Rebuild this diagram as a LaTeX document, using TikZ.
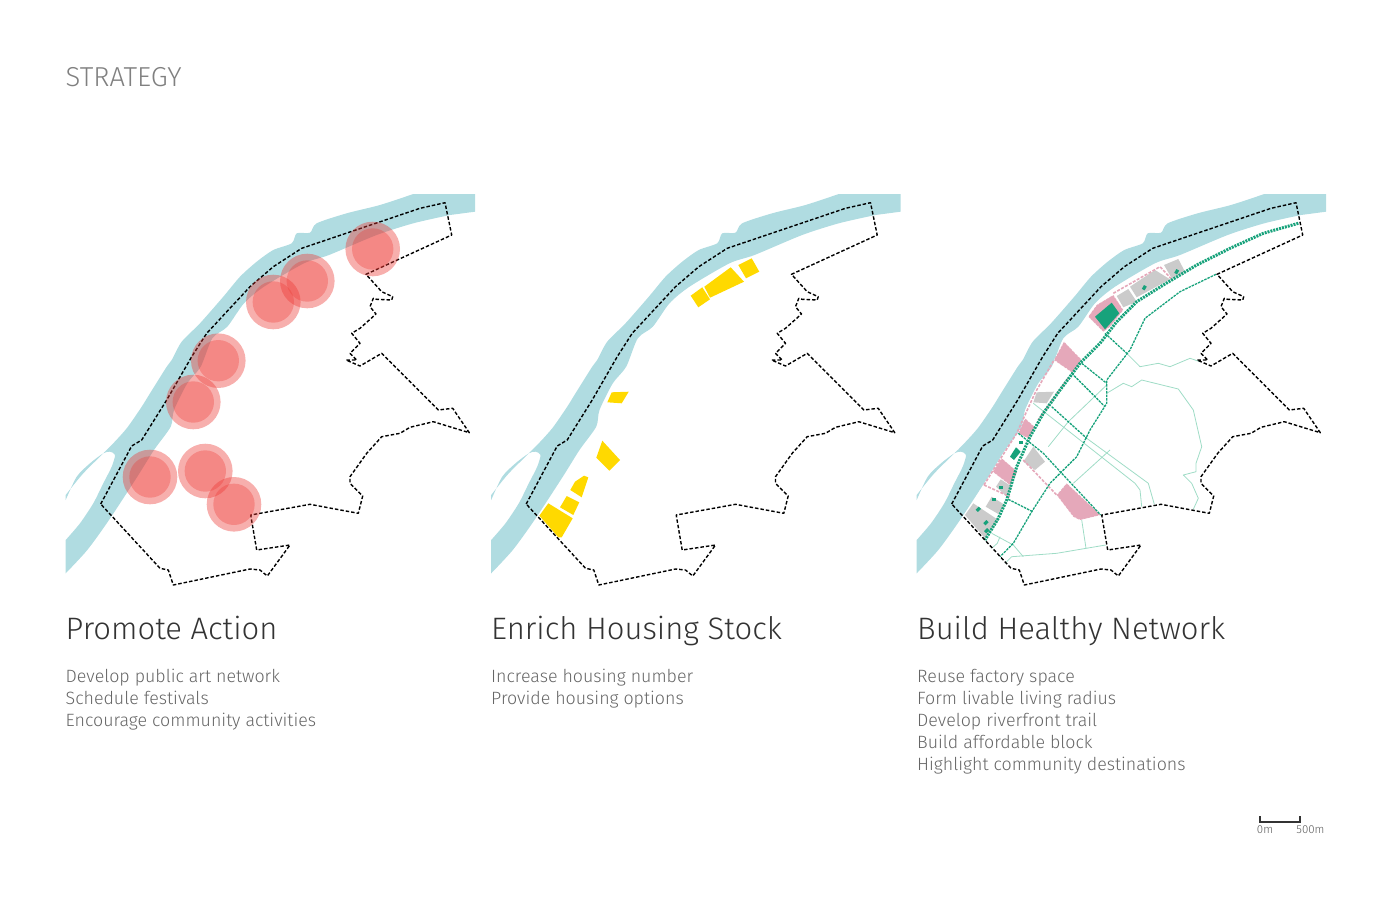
\documentclass[tikz,border=0pt]{standalone}
\usepackage{xcolor}
\usepackage{fontspec}
\setmainfont[UprightFont={* Light}]{Fira Sans}
\usetikzlibrary{positioning}
\definecolor{riverblue}{HTML}{B0DCE1}
\definecolor{eventred}{HTML}{EC3833}
\definecolor{houseyellow}{HTML}{FFD900}
\definecolor{blockpink}{HTML}{E5A8BA}
\definecolor{factorygray}{HTML}{CBCBCB}
\definecolor{trailgreen}{HTML}{17A27B}
\definecolor{linegreen}{HTML}{9FDCC6}

\def\riverpath{plot[smooth, tension=0.45] coordinates {(65.7,495) (83.3,473.3) (110,446.7) (126.7,428.3) (141.7,406.7) (150,393.3) (166.7,366.7) (171.7,360) (181.7,341.7) (200,323.3) (223.3,296.7) (240,276.7) (256.7,261.7) (273.3,250) (291.7,243.3) (296.7,233.3) (310,232.7) (316.7,223.3) (346.7,213.3) (380,205) (413.3,194)} -- (475,194) -- (475,211.7) -- plot[smooth, tension=0.45] coordinates {(450,215) (413.3,223.3) (376.7,235) (329,255) (304,263.3) (264,286.7) (244,303.3) (227.3,326.7) (212.3,338.3) (200.7,366.7) (187.3,383.3) (174,410) (170.7,426.7) (154,450) (137.3,476.7) (109,520) (87.3,550) (65.7,573.3)} -- plot[smooth, tension=0.45] coordinates {(65.7,540) (80,523.3) (93.3,503.3) (103.3,483.3) (111.7,466.7) (115,455) (110,451.7) (103.3,453.3) (90,463.3) (76.7,476.7) (65.7,500)} -- cycle}
\def\sitepath{(100.7,504) -- (131.7,446) -- (141.7,440) -- (166.7,400) -- (191.7,356.7) -- (206.7,333.3) -- (250,286.7) -- (273.3,266.7) -- (301.7,248.3) -- (420,208.3) -- (445,202.7) -- (451.7,235) -- (366,274.3) -- (381.7,291.7) -- (392.7,296.7) -- (391.7,300) -- (376.7,299.3) -- (373.3,298.3) -- (370,306.7) -- (376,314) -- (360,328.3) -- (351.7,333.3) -- (360,343.3) -- (350,353.3) -- (356.7,360) -- (346,360) -- (360,366) -- (381.7,353.3) -- (438.3,410) -- (452.7,408.3) -- (469.3,432.7) -- (433.3,421.7) -- (410,427.3) -- (400,433.3) -- (381.7,436.7) -- (366.7,453.3) -- (350,476.7) -- (350,483.3) -- (362.7,496) -- (358.3,513.3) -- (310,504.3) -- (250.7,515) -- (256.7,550) -- (290,545) -- (267.3,576) -- (260,570) -- (250,569) -- (173.3,585) -- (168.3,570) -- (160,568.3) -- cycle}
\newcommand{\linestrut}{\rule{0pt}{14pt}}

\begin{document}
\begin{tikzpicture}[
    x=1pt, y=-1pt,
    river/.style={fill=riverblue},
    site/.style={black, line width=1.4pt, dash pattern=on 3.5pt off 2pt, line join=round},
    halo/.style={fill=eventred, fill opacity=#1},
    house/.style={fill=houseyellow},
    pinkblock/.style={fill=blockpink, draw=white, line width=0.5pt, dash pattern=on 1pt off 3pt},
    grayblock/.style={fill=factorygray},
    greenmark/.style={fill=trailgreen},
    trail/.style={trailgreen, line width=3pt, dash pattern=on 2pt off 1pt},
    route/.style={trailgreen, line width=1.3pt, dash pattern=on 2.5pt off 1pt, line join=round},
    pinkroute/.style={blockpink, line width=1.6pt, dash pattern=on 3pt off 1.5pt},
    street/.style={linegreen, line width=0.8pt, line join=round},
    bigtitle/.style={anchor=base west, inner sep=0pt, font=\fontsize{31}{31}\selectfont, text=black!80},
    bodytext/.style={anchor=north west, inner sep=0pt, align=left, font=\fontsize{17.8}{22}\selectfont, text=black!60},
    scalelabel/.style={anchor=base, inner sep=0pt, font=\fontsize{11.5}{12}\selectfont, text=black!65}
]
\useasboundingbox (0,0) rectangle (1391,900);

\node[anchor=base west, inner sep=0pt, font=\fontsize{27.4}{27}\selectfont, text=black!50] (title) at (65.5,86) {STRATEGY};

% Promote Action
\fill[river] \riverpath;
\draw[site] \sitepath;
\foreach \x/\y in {372.7/249, 307.3/281, 273.3/302, 218.3/360.7, 193.3/402, 150/477, 205.3/471, 234/504.3} {
    \fill[halo=0.4] (\x,\y) circle (27.3pt);
    \fill[halo=0.33] (\x,\y) circle (20.7pt);
}
\node[bigtitle] (actionhead) at (65.5,639) {Promote Action};
\node[bodytext] (actiontext) at (65.5,668) {\linestrut Develop public art network\\Schedule festivals\\Encourage community activities};

% Enrich Housing Stock
\begin{scope}[xshift=425.5pt]
\fill[river] \riverpath;
\draw[site] \sitepath;
\end{scope}
\fill[house] (751.7,258.3) -- (759.3,271.7) -- (746,278.3) -- (738.3,265) -- cycle;
\fill[house] (730.7,267.3) -- (744,281.7) -- (710,297.7) -- (704.3,286.7) -- cycle;
\fill[house] (702.3,287.3) -- (710,299.3) -- (698.3,307.3) -- (690.7,295.7) -- cycle;
\fill[house] (611.7,392.3) -- (628.7,391.7) -- (621.7,403.3) -- (607.3,402.3) -- cycle;
\fill[house] (602.3,440.7) -- (620,460) -- (609.3,470.7) -- (596.3,457.7) -- cycle;
\fill[house] (588.3,477.3) -- (581.7,497.3) -- (570.3,490) -- (575,481.7) -- (584,475.7) -- cycle;
\fill[house] (566.7,496) -- (579.3,502.3) -- (573.3,515) -- (560,507.3) -- cycle;
\fill[house] (548.3,503.3) -- (572.7,518.3) -- (561.7,537.3) -- (558.3,537.3) -- (539.3,515.7) -- cycle;
\node[bigtitle] (househead) at (491,639) {Enrich Housing Stock};
\node[bodytext] (housetext) at (491,668) {\linestrut Increase housing number\\Provide housing options};

% Build Healthy Network
\begin{scope}[xshift=851pt]
\fill[river] \riverpath;
\end{scope}

% thin streets
\draw[street] (1126.7,353.3) -- (1140,366.7) -- (1158.3,363.3) -- (1170,366.7) -- (1190,358.3) -- (1200,361.7);
\draw[street] (1106.7,393.3) -- (1123.3,383.3) -- (1131.7,386.7) -- (1141.7,380) -- (1178.3,389) -- (1193.3,410) -- (1201.7,446.7) -- (1196,463.3) -- (1196,471.7) -- (1183.3,475) -- (1191.7,483.3) -- (1198.3,498.3) -- (1193.3,509.3);
\draw[street] (1106.7,385) -- (1068.3,421.7) -- (1048.3,446.7);
\draw[street] (1033.3,403.3) -- (1135,483.3) -- (1140,490) -- (1141.7,506.7);
\draw[street] (1086.7,438.3) -- (1148.3,483.3) -- (1154.3,504.3);
\draw[street] (1110,450) -- (1073.3,483.3);
\draw[street] (1081.7,520) -- (1086,548.3);
\draw[street] (1105.7,545) -- (1056.7,553.3) -- (1011.7,556.7) -- (1005,563.3);
\draw[street] (991.7,533.3) -- (1013.3,545) -- (1023.3,556.7);
\draw[street] (1000,536.7) -- (997.3,543.3) -- (991.7,548.3);

% blocks
\path[pinkblock] (1064,341.7) -- (1081.7,360) -- (1072.3,372.7) -- (1054,360) -- cycle;
\path[pinkblock] (1025,418.3) -- (1035,427.3) -- (1028.3,438.3) -- (1018.3,433.3) -- cycle;
\path[pinkblock] (1001.7,458.3) -- (1017.3,471.7) -- (1010,485) -- (992.7,471.7) -- cycle;
\path[pinkblock] (1066.7,483.3) -- (1100.7,515) -- (1080,520) -- (1073.3,516.7) -- (1056.7,495) -- cycle;
\path[pinkblock] (1088.3,316.7) -- (1096.7,305) -- (1113.3,295) -- (1123.3,310) -- (1110,326.7) -- (1103.3,331.7) -- cycle;
\fill[greenmark] (1095,316.7) -- (1111.7,302.7) -- (1119.3,313.3) -- (1105,329.3) -- cycle;
\fill[grayblock] (1178.3,259) -- (1185,271.7) -- (1171.7,278.3) -- (1164,265) -- cycle;
\fill[grayblock] (1155,270) -- (1170,279.3) -- (1136.7,297.3) -- (1130,286.7) -- cycle;
\fill[grayblock] (1128.3,289) -- (1136.7,301.7) -- (1123.3,307.3) -- (1116.7,296) -- cycle;
\fill[grayblock] (1036.7,392.3) -- (1054,391.7) -- (1046.7,403.3) -- (1033.3,402.3) -- cycle;
\fill[grayblock] (1033.3,446.7) -- (1045,461.7) -- (1035,470) -- (1023.3,461.7) -- cycle;
\fill[grayblock] (1000.7,479.3) -- (1011.7,486.7) -- (1006.7,496.7) -- (996,486.7) -- cycle;
\fill[grayblock] (991.7,496.7) -- (1005,505) -- (998.3,514) -- (985.7,506.7) -- cycle;
\fill[grayblock] (973.3,503.3) -- (998.3,520) -- (985,538.3) -- (965,515) -- cycle;

% small destinations
\fill[greenmark] (1016,447.3) -- (1020.7,451.7) -- (1014,460) -- (1010,456.7) -- cycle;
\foreach \x/\y/\a in {1144.3/287.7/60, 1176.7/271.7/60, 1020.7/442.7/0, 1000.7/487.3/0, 994/499.3/0, 978.3/509.3/45, 986/522.7/45, 986.7/530.7/45} {
    \fill[greenmark, rotate around={\a:(\x,\y)}] (\x-2.2,\y-1.6) rectangle (\x+2.2,\y+1.6);
}

% routes
\draw[pinkroute] (984,485) -- (993.3,470) -- (1016.7,433.3) -- (1035,393) -- (1054,360);
\draw[pinkroute] (984,485) -- (1010,496.7);
\draw[pinkroute] (1023.3,460) -- (1056.7,495);
\draw[pinkroute] (1113.3,293.3) -- (1136.7,280) -- (1160,266.7) -- (1171.7,279.3);
\draw[pinkroute] (1068,378) -- (1038,420);
\draw[trail] (1298.3,223.3) -- (1263.3,233.3) -- (1230,248.3) -- (1196.7,265) -- (1163.3,285) -- (1136.7,301.7) -- (1116.7,321.7) -- (1100,343.3) -- (1080,363.3) -- (1060,390) -- (1043.3,413.3) -- (1030,436.7) -- (1016.7,466.7) -- (1006.7,500) -- (998.3,518.3) -- (985,540);
\draw[route] (1216,274.3) -- (1180,291.7) -- (1145,318.3) -- (1130,350) -- (1106.7,380) -- (1106.7,403.3) -- (1090,430) -- (1076.7,456.7) -- (1050,483.3) -- (1031.7,511.7) -- (1013.3,543.3) -- (1000,556.7);
\draw[route] (1105,333.3) -- (1126.7,353.3);
\draw[route] (1081.7,363.3) -- (1106.7,383.3);
\draw[route] (1071.7,373.3) -- (1105,406.7);
\draw[route] (1051.7,406.7) -- (1086.7,438.3);
\draw[route] (1018.3,433.3) -- (1043.3,453.3) -- (1061.7,473.3) -- (1100.7,515);
\draw[route] (1008.3,499.3) -- (1032.7,511.7);

\begin{scope}[xshift=851pt]
\draw[site] \sitepath;
\end{scope}
\node[bigtitle] (networkhead) at (917,639) {Build Healthy Network};
\node[bodytext] (networktext) at (917,668) {\linestrut Reuse factory space\\Form livable living radius\\Develop riverfront trail\\Build affordable block\\Highlight community destinations};

% scale bar
\draw[black!80, line width=1.2pt] (1260,816) -- (1260,822) -- (1300,822) -- (1300,816);
\node[scalelabel] (scalezero) at (1265,833) {0m};
\node[scalelabel] (scalefive) at (1310.5,833) {500m};

\end{tikzpicture}
\end{document}
